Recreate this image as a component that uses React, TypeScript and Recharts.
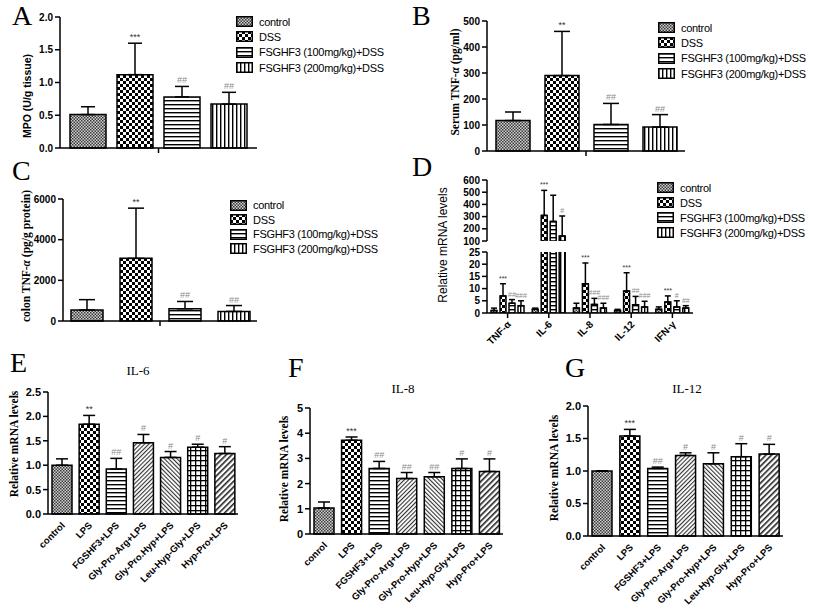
import React from 'react';
import { BarChart, Bar, XAxis, YAxis, ErrorBar, Cell, LabelList } from 'recharts';

const SANS = '"Liberation Sans", Arial, sans-serif';
const SERIF = '"Liberation Serif", "Times New Roman", serif';

// panels A-D: treatment groups
const groups = ['control', 'DSS', 'FSGHF3 (100mg/kg)+DSS', 'FSGHF3 (200mg/kg)+DSS'];
const groupFills = ['url(#pCtrl)', 'url(#pDss)', 'url(#pHor)', 'url(#pVer)'];

// A: MPO (U/g tissue)
const mpoTicks = [0, 0.5, 1, 1.5, 2];
const mpoMean = [0.51, 1.12, 0.78, 0.67];
const mpoUpper = [0.63, 1.6, 0.94, 0.85];
const mpoMarks = ['', '***', '##', '##'];

// B: serum TNF-a (pg/ml)
const serumTicks = [0, 100, 200, 300, 400, 500];
const serumMean = [117, 290, 102, 92];
const serumUpper = [150, 460, 183, 140];
const serumMarks = ['', '**', '##', '##'];

// C: colon TNF-a (pg/g protein)
const colonTicks = [0, 2000, 4000, 6000];
const colonMean = [540, 3080, 600, 470];
const colonUpper = [1050, 5550, 960, 760];
const colonMarks = ['', '**', '##', '##'];

// D: relative mRNA levels, broken axis
const genes = ['TNF-α', 'IL-6', 'IL-8', 'IL-12', 'IFN-γ'];
const lowTicks = [0, 5, 10, 15, 20, 25];
const highTicks = [100, 200, 300, 400, 500, 600];
const mrnaControl = [1, 1.5, 2, 1, 1.5];
const mrnaControlUp = [2, 2, 4, 1.5, 2.5];
const mrnaDss = [7, 310, 12, 9, 4.5];
const mrnaDssUp = [12, 515, 20.5, 16.5, 7];
const mrna100 = [4, 260, 3.5, 3.4, 2.5];
const mrna100Up = [5.5, 475, 6, 6.8, 5];
const mrna200 = [3, 140, 2, 2.5, 2];
const mrna200Up = [5, 305, 4, 4.8, 3];
const mrnaControlMarks = ['', '', '', '', ''];
const mrnaDssMarks = ['***', '***', '***', '***', '***'];
const mrna100Marks = ['##', '', '###', '##', '#'];
const mrna200Marks = ['###', '#', '###', '###', '##'];

// E-G: peptide treatments
const peptidesE = ['control', 'LPS', 'FGSHF3+LPS', 'Gly-Pro-Arg+LPS', 'Gly-Pro.Hyp+LPS', 'Leu-Hyp-Gly+LPS', 'Hyp-Pro+LPS'];
const peptidesF = ['conrol', 'LPS', 'FGSHF3+LPS', 'Gly-Pro-Arg+LPS', 'Gly-Pro-Hyp+LPS', 'Leu-Hyp-Gly+LPS', 'Hyp-Pro+LPS'];
const peptidesG = ['control', 'LPS', 'FGSHF3+LPS', 'Gly-Pro-Arg+LPS', 'Gly-Pro-Hyp+LPS', 'Leu-Hyp-Gly+LPS', 'Hyp-Pro+LPS'];
const peptideFills = ['url(#pCtrl)', 'url(#pDss)', 'url(#pHor)', 'url(#pFwd)', 'url(#pBack)', 'url(#pGrid)', 'url(#pFwd2)'];

const il6Ticks = [0, 0.5, 1, 1.5, 2, 2.5];
const il6Mean = [1.0, 1.84, 0.92, 1.46, 1.16, 1.37, 1.24];
const il6Upper = [1.13, 2.02, 1.14, 1.63, 1.28, 1.43, 1.38];
const il6Marks = ['', '**', '##', '#', '#', '#', '#'];

const il8Ticks = [0, 1, 2, 3, 4, 5];
const il8Mean = [1.03, 3.72, 2.6, 2.2, 2.27, 2.6, 2.48];
const il8Upper = [1.27, 3.85, 2.88, 2.44, 2.44, 2.98, 2.98];
const il8Marks = ['', '***', '##', '##', '##', '#', '#'];

const il12Ticks = [0, 0.5, 1, 1.5, 2];
const il12Mean = [1.0, 1.54, 1.04, 1.24, 1.11, 1.22, 1.26];
const il12Upper = [1.0, 1.64, 1.06, 1.28, 1.28, 1.42, 1.41];
const il12Marks = ['', '***', '##', '#', '#', '#', '#'];

const axisStroke = { stroke: '#000', strokeWidth: 1.5 };
const tickSmall = { fill: '#000', fontSize: 10, fontWeight: 'bold', fontFamily: SANS };
const tickBig = { fill: '#000', fontSize: 11, fontWeight: 'bold', fontFamily: SANS };
const fix1 = (v: number) => v.toFixed(1);

// significance mark drawn just above the error-bar cap
const markLabel = (marks: string[], means: (number | null)[], uppers: number[], base: number, limit: number, size = 9) => (p: any) => {
  let k = marks.length === 1 ? 0 : (p.index ?? 0);
  if (marks.length > 1 && p.value != null && means[k] !== p.value) {
    const found = means.indexOf(p.value);
    if (found >= 0) k = found;
  }
  const mark = marks[k];
  const m = means[k];
  if (!mark || m == null || uppers[k] > limit) return null;
  const vb = p.viewBox && p.viewBox.height != null ? p.viewBox : p;
  const ppu = Math.abs(vb.height) / (m - base);
  const yBarTop = Math.min(vb.y, vb.y + vb.height);
  const yTop = yBarTop - (uppers[k] - m) * ppu;
  const color = mark.startsWith('*') ? '#333' : '#8c8c8c';
  return (
    <text x={vb.x + vb.width / 2} y={yTop - 3} textAnchor="middle" fontSize={size} fontFamily={SANS} fill={color}>
      {mark}
    </text>
  );
};

const slantTick = (size: number, dy: number) => (props: any) => {
  const { x, y, payload } = props;
  const tx = x + 4;
  const ty = y + dy;
  return (
    <text x={tx} y={ty} transform={`rotate(-45 ${tx} ${ty})`} textAnchor="end" fontSize={size} fontWeight="bold" fontFamily={SANS} fill="#000">
      {payload.value}
    </text>
  );
};

function GroupLegend({ left, top, row }: { left: number; top: number; row: number }) {
  return (
    <div style={{ position: 'absolute', left, top, fontFamily: SANS, fontSize: 11, letterSpacing: -0.3, color: '#000' }}>
      {groups.map((g, i) => (
        <div key={g} style={{ display: 'flex', alignItems: 'center', height: row, whiteSpace: 'nowrap' }}>
          <svg width={17} height={11}>
            <rect x={0.75} y={0.75} width={15.5} height={9.5} fill={groupFills[i]} stroke="#000" strokeWidth={1.5} />
          </svg>
          <span style={{ marginLeft: 6 }}>{g}</span>
        </div>
      ))}
    </div>
  );
}

function GroupChart(props: any) {
  const { left, top, width, height, margin, ticks, fmt, means, uppers, marks, barSize, barGap, cap } = props;
  const row: any = { name: 'all' };
  means.forEach((m: number, i: number) => {
    row['v' + i] = m;
    row['e' + i] = [0, uppers[i] - m];
  });
  return (
    <div style={{ position: 'absolute', left, top }}>
      <BarChart width={width} height={height} data={[row]} margin={margin} barGap={barGap}>
        <XAxis dataKey="name" height={10} tick={() => <g />} tickSize={5} axisLine={axisStroke} tickLine={axisStroke} />
        <YAxis width={40} domain={[0, ticks[ticks.length - 1]]} ticks={ticks} interval={0} tickFormatter={fmt}
          tick={tickSmall} tickSize={5} axisLine={axisStroke} tickLine={axisStroke} />
        {means.map((_: number, i: number) => (
          <Bar key={i} dataKey={'v' + i} barSize={barSize} fill={groupFills[i]} stroke="#000" strokeWidth={1.5} isAnimationActive={false}>
            <ErrorBar dataKey={'e' + i} width={cap} stroke="#000" strokeWidth={1.5} />
            <LabelList content={markLabel([marks[i]], [means[i]], [uppers[i]], 0, Infinity, 9)} />
          </Bar>
        ))}
      </BarChart>
    </div>
  );
}

const mrnaMeans = [mrnaControl, mrnaDss, mrna100, mrna200];
const mrnaUppers = [mrnaControlUp, mrnaDssUp, mrna100Up, mrna200Up];
const mrnaMarks = [mrnaControlMarks, mrnaDssMarks, mrna100Marks, mrna200Marks];

function MrnaChart() {
  const low = genes.map((g, j) => {
    const r: any = { gene: g };
    mrnaMeans.forEach((s, i) => {
      r['v' + i] = s[j];
      r['e' + i] = [0, mrnaUppers[i][j] - s[j]];
    });
    return r;
  });
  const high = genes.map((g, j) => {
    const r: any = { gene: g };
    mrnaMeans.forEach((s, i) => {
      r['v' + i] = s[j] > 100 ? s[j] : null;
      r['e' + i] = s[j] > 100 ? [0, mrnaUppers[i][j] - s[j]] : null;
    });
    return r;
  });
  const highMeans = mrnaMeans.map((s) => s.map((v) => (v > 100 ? v : null)));
  const margin = { top: 15, right: 122, bottom: 10, left: 47 };
  return (
    <>
      <div style={{ position: 'absolute', left: 400, top: 165 }}>
        <BarChart width={415} height={86} data={high} margin={margin} barGap={3} barCategoryGap={4}>
          <XAxis dataKey="gene" hide />
          <YAxis width={40} domain={[100, 600]} allowDataOverflow ticks={highTicks} interval={0}
            tick={tickSmall} tickSize={5} axisLine={axisStroke} tickLine={axisStroke} />
          {mrnaMeans.map((_, i) => (
            <Bar key={i} dataKey={'v' + i} barSize={6} fill={groupFills[i]} stroke="#000" strokeWidth={1.5} isAnimationActive={false}>
              <ErrorBar dataKey={'e' + i} width={3} stroke="#000" strokeWidth={1.5} />
              <LabelList content={markLabel(mrnaMarks[i], highMeans[i], mrnaUppers[i], 100, Infinity, 7)} />
            </Bar>
          ))}
        </BarChart>
      </div>
      <div style={{ position: 'absolute', left: 400, top: 245 }}>
        <BarChart width={415} height={110} data={low} margin={{ ...margin, top: 7, bottom: 2 }} barGap={3} barCategoryGap={4}>
          <XAxis dataKey="gene" interval={0} height={40} tickSize={5} axisLine={axisStroke} tickLine={axisStroke} tick={slantTick(10, 5)} />
          <YAxis width={40} domain={[0, 25]} allowDataOverflow ticks={lowTicks} interval={0}
            tick={tickSmall} tickSize={5} axisLine={axisStroke} tickLine={axisStroke} />
          {mrnaMeans.map((_, i) => (
            <Bar key={i} dataKey={'v' + i} barSize={6} fill={groupFills[i]} stroke="#000" strokeWidth={1.5} isAnimationActive={false}>
              <ErrorBar dataKey={'e' + i} width={3} stroke="#000" strokeWidth={1.5} />
              <LabelList content={markLabel(mrnaMarks[i], mrnaMeans[i], mrnaUppers[i], 0, 25, 7)} />
            </Bar>
          ))}
        </BarChart>
      </div>
    </>
  );
}

function PeptideChart(props: any) {
  const { left, top, width, height, margin, yWidth, xHeight, ticks, fmt, labels, means, uppers, marks } = props;
  const data = labels.map((name: string, i: number) => ({ name, v: means[i], e: [0, uppers[i] - means[i]] }));
  return (
    <div style={{ position: 'absolute', left, top }}>
      <BarChart width={width} height={height} data={data} margin={margin}>
        <XAxis dataKey="name" interval={0} height={xHeight} tickLine={false} axisLine={axisStroke} tick={slantTick(9.5, 4)} />
        <YAxis width={yWidth} domain={[0, ticks[ticks.length - 1]]} ticks={ticks} interval={0} tickFormatter={fmt}
          tick={tickBig} tickSize={5} axisLine={axisStroke} tickLine={axisStroke} />
        <Bar dataKey="v" barSize={20} stroke="#000" strokeWidth={1.5} isAnimationActive={false}>
          {data.map((_: any, i: number) => (
            <Cell key={i} fill={peptideFills[i]} />
          ))}
          <ErrorBar dataKey="e" width={6} stroke="#000" strokeWidth={1.5} />
          <LabelList content={markLabel(marks, means, uppers, 0, Infinity, 9)} />
        </Bar>
      </BarChart>
    </div>
  );
}

function Patterns() {
  return (
    <svg width={0} height={0} style={{ position: 'absolute' }}>
      <defs>
        <pattern id="pCtrl" width={3} height={3} patternUnits="userSpaceOnUse">
          <rect width={3} height={3} fill="#d0d0d0" />
          <rect width={1.5} height={1.5} fill="#3a3a3a" />
          <rect x={1.5} y={1.5} width={1.5} height={1.5} fill="#3a3a3a" />
        </pattern>
        <pattern id="pDss" width={6} height={6} patternUnits="userSpaceOnUse">
          <rect width={6} height={6} fill="#fff" />
          <rect width={3} height={3} fill="#000" />
          <rect x={3} y={3} width={3} height={3} fill="#000" />
        </pattern>
        <pattern id="pHor" width={4} height={4} patternUnits="userSpaceOnUse">
          <rect width={4} height={4} fill="#fff" />
          <rect width={4} height={1.4} fill="#000" />
        </pattern>
        <pattern id="pVer" width={4} height={4} patternUnits="userSpaceOnUse">
          <rect width={4} height={4} fill="#fff" />
          <rect width={1.4} height={4} fill="#000" />
        </pattern>
        <pattern id="pFwd" width={3} height={3} patternUnits="userSpaceOnUse" patternTransform="rotate(45)">
          <rect width={3} height={3} fill="#fff" />
          <rect width={1.1} height={3} fill="#333" />
        </pattern>
        <pattern id="pBack" width={3} height={3} patternUnits="userSpaceOnUse" patternTransform="rotate(-45)">
          <rect width={3} height={3} fill="#fff" />
          <rect width={1.1} height={3} fill="#333" />
        </pattern>
        <pattern id="pGrid" width={5} height={5} patternUnits="userSpaceOnUse">
          <rect width={5} height={5} fill="#fff" />
          <rect width={5} height={1.3} fill="#000" />
          <rect width={1.3} height={5} fill="#000" />
        </pattern>
        <pattern id="pFwd2" width={4} height={4} patternUnits="userSpaceOnUse" patternTransform="rotate(45)">
          <rect width={4} height={4} fill="#fff" />
          <rect width={1.6} height={4} fill="#222" />
        </pattern>
      </defs>
    </svg>
  );
}

function Texts() {
  const letter = { fontFamily: SERIF, fontSize: 28, fill: '#000' };
  const title = { fontFamily: SERIF, fontSize: 13, fill: '#000', textAnchor: 'middle' as const };
  const serifLab = { fontFamily: SERIF, fontSize: 11.5, fontWeight: 'bold', fill: '#000', textAnchor: 'middle' as const };
  return (
    <svg width={815} height={612} style={{ position: 'absolute', left: 0, top: 0, pointerEvents: 'none' }}>
      <text x={12} y={25} {...letter}>A</text>
      <text x={412} y={25} {...letter}>B</text>
      <text x={12} y={180} {...letter}>C</text>
      <text x={412} y={176} {...letter}>D</text>
      <text x={10} y={372} {...letter}>E</text>
      <text x={288} y={377} {...letter}>F</text>
      <text x={565} y={377} {...letter}>G</text>
      <text x={138} y={375} {...title}>IL-6</text>
      <text x={403} y={393} {...title}>IL-8</text>
      <text x={687} y={393} {...title}>IL-12</text>
      <text transform="translate(31 96) rotate(-90)" textAnchor="middle" fontFamily={SANS} fontSize={10.5} fontWeight="bold">MPO (U/g tissue)</text>
      <text transform="translate(459 82) rotate(-90)" {...serifLab}>Serum TNF-<tspan fontStyle="italic">α</tspan> (pg/ml)</text>
      <text transform="translate(30 256) rotate(-90)" {...serifLab}>colon TNF-<tspan fontStyle="italic">α</tspan> (pg/g protein)</text>
      <text transform="translate(447 245) rotate(-90)" textAnchor="middle" fontFamily={SANS} fontSize={12}>Relative mRNA levels</text>
      <text transform="translate(18 444) rotate(-90)" {...serifLab}>Relative mRNA levels</text>
      <text transform="translate(288 469) rotate(-90)" {...serifLab}>Relative mRNA levels</text>
      <text transform="translate(558 468) rotate(-90)" {...serifLab}>Relative mRNA levels</text>
    </svg>
  );
}

export default function App() {
  return (
    <div style={{ position: 'absolute', left: 0, top: 0, width: 815, height: 612, background: '#fff', overflow: 'hidden' }}>
      <Patterns />
      <GroupChart left={0} top={0} width={400} height={165} margin={{ top: 17, right: 143, bottom: 7, left: 20 }}
        ticks={mpoTicks} fmt={fix1} means={mpoMean} uppers={mpoUpper} marks={mpoMarks} barSize={36} barGap={11} cap={7} />
      <GroupLegend left={236} top={14} row={15.3} />
      <GroupChart left={400} top={0} width={415} height={165} margin={{ top: 21, right: 130, bottom: 4, left: 47 }}
        ticks={serumTicks} fmt={String} means={serumMean} uppers={serumUpper} marks={serumMarks} barSize={34} barGap={15} cap={8} />
      <GroupLegend left={658} top={20} row={15.3} />
      <GroupChart left={0} top={150} width={400} height={185} margin={{ top: 49, right: 143, bottom: 4, left: 23 }}
        ticks={colonTicks} fmt={String} means={colonMean} uppers={colonUpper} marks={colonMarks} barSize={32} barGap={17} cap={8} />
      <GroupLegend left={230} top={198} row={14.5} />
      <MrnaChart />
      <GroupLegend left={657} top={180} row={15} />
      <PeptideChart left={0} top={380} width={270} height={215} margin={{ top: 12, right: 32, bottom: 6, left: 18 }}
        yWidth={30} xHeight={75} ticks={il6Ticks} fmt={fix1} labels={peptidesE} means={il6Mean} uppers={il6Upper} marks={il6Marks} />
      <PeptideChart left={270} top={380} width={270} height={232} margin={{ top: 28, right: 37, bottom: 4, left: 18 }}
        yWidth={22} xHeight={74} ticks={il8Ticks} fmt={String} labels={peptidesF} means={il8Mean} uppers={il8Upper} marks={il8Marks} />
      <PeptideChart left={540} top={380} width={275} height={232} margin={{ top: 26, right: 32, bottom: 4, left: 18 }}
        yWidth={30} xHeight={72} ticks={il12Ticks} fmt={fix1} labels={peptidesG} means={il12Mean} uppers={il12Upper} marks={il12Marks} />
      <Texts />
    </div>
  );
}
